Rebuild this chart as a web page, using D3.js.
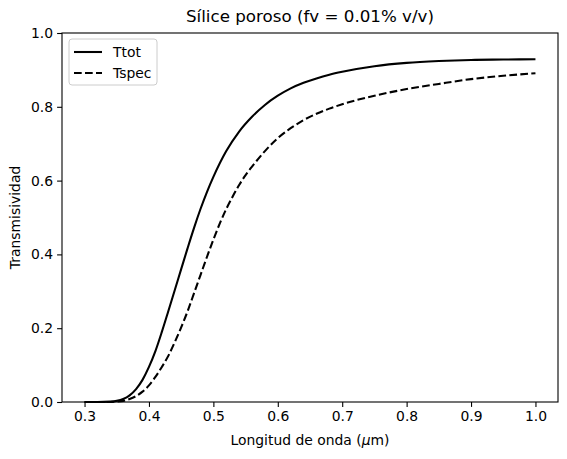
<!DOCTYPE html>
<html>
<head>
<meta charset="utf-8">
<script src="https://cdn.jsdelivr.net/npm/d3@7"></script>
<style>
  body { margin: 0; background: #fff; }
  text { font-family: "DejaVu Sans", sans-serif; fill: #000; }
</style>
</head>
<body>
<div id="chart"></div>
<script>
// wavelength in µm and transmissivity
const lambdaTot = [0.30, 0.32, 0.34, 0.35, 0.36, 0.37, 0.38, 0.39, 0.40, 0.41, 0.42, 0.43, 0.44, 0.45,
  0.46, 0.47, 0.48, 0.49, 0.50, 0.52, 0.54, 0.56, 0.58, 0.60, 0.62, 0.64, 0.66, 0.68, 0.70,
  0.75, 0.80, 0.85, 0.90, 0.95, 1.00];
const ttot = [0.000, 0.000, 0.001, 0.003, 0.008, 0.018, 0.035, 0.060, 0.095, 0.138, 0.190, 0.246, 0.303, 0.360,
  0.417, 0.472, 0.523, 0.569, 0.610, 0.680, 0.733, 0.773, 0.805, 0.830, 0.850, 0.865, 0.877, 0.887, 0.895,
  0.910, 0.919, 0.924, 0.927, 0.928, 0.929];

const lambdaSpec = [0.30, 0.32, 0.34, 0.35, 0.36, 0.37, 0.38, 0.39, 0.40, 0.41, 0.42, 0.43, 0.44, 0.45,
  0.46, 0.47, 0.48, 0.49, 0.50, 0.51, 0.52, 0.53, 0.54, 0.55, 0.56, 0.58, 0.60, 0.62, 0.64, 0.66, 0.68, 0.70,
  0.75, 0.80, 0.85, 0.90, 0.95, 1.00];
const tspec = [0.000, 0.000, 0.000, 0.001, 0.003, 0.008, 0.016, 0.028, 0.045, 0.068, 0.095, 0.125, 0.162, 0.202,
  0.246, 0.295, 0.344, 0.393, 0.440, 0.484, 0.523, 0.557, 0.588, 0.615, 0.638, 0.680, 0.715, 0.742, 0.764, 0.781, 0.795, 0.807,
  0.830, 0.848, 0.862, 0.875, 0.884, 0.891];

const xTicks = [0.3, 0.4, 0.5, 0.6, 0.7, 0.8, 0.9, 1.0];
const yTicks = [0.0, 0.2, 0.4, 0.6, 0.8, 1.0];

const W = 567, H = 459;
const margin = { top: 33, right: 9, bottom: 57, left: 62 };
const width = W - margin.left - margin.right,
  height = H - margin.top - margin.bottom;

const svgRoot = d3.select("#chart").append("svg")
  .attr("width", W).attr("height", H);

const svg = svgRoot.append("g")
  .attr("transform", "translate(" + margin.left + "," + margin.top + ")");

const x = d3.scaleLinear().domain([0.265, 1.035]).range([0, width]);
const y = d3.scaleLinear().domain([0, 1]).range([height, 0]);

// axes
const xAxis = svg.append("g")
  .attr("transform", "translate(0," + height + ")")
  .call(d3.axisBottom(x).tickValues(xTicks).tickFormat(d3.format(".1f")).tickSizeInner(4.9).tickSizeOuter(0).tickPadding(4));
const yAxis = svg.append("g")
  .call(d3.axisLeft(y).tickValues(yTicks).tickFormat(d3.format(".1f")).tickSizeInner(4.9).tickSizeOuter(0).tickPadding(4));

[xAxis, yAxis].forEach(a => {
  a.select(".domain").remove();
  a.selectAll("line").attr("stroke", "#000").attr("stroke-width", 1.1);
  a.selectAll("text").style("font-size", "13.9px").style("font-family", "DejaVu Sans");
});

// frame
svg.append("rect")
  .attr("x", 0).attr("y", 0).attr("width", width).attr("height", height)
  .attr("fill", "none").attr("stroke", "#000").attr("stroke-width", 1.1);

// lines
const line = d3.line()
  .curve(d3.curveMonotoneX)
  .x(d => x(d[0]))
  .y(d => y(d[1]));

svg.append("path")
  .datum(lambdaTot.map((l, i) => [l, ttot[i]]))
  .attr("d", line)
  .attr("fill", "none").attr("stroke", "#000").attr("stroke-width", 2.08);

svg.append("path")
  .datum(lambdaSpec.map((l, i) => [l, tspec[i]]))
  .attr("d", line)
  .attr("fill", "none").attr("stroke", "#000").attr("stroke-width", 2.08)
  .attr("stroke-dasharray", "7.7,3.3");

// titles
svg.append("text")
  .attr("x", width / 2).attr("y", -11)
  .style("text-anchor", "middle").style("font-size", "16.7px")
  .text("Sílice poroso (fv = 0.01% v/v)");

const xl = svg.append("text")
  .attr("x", width / 2).attr("y", height + 43)
  .style("text-anchor", "middle").style("font-size", "13.9px");
xl.append("tspan").text("Longitud de onda (");
xl.append("tspan").style("font-style", "italic").text("μ");
xl.append("tspan").text("m)");

svg.append("text")
  .attr("transform", "rotate(-90)")
  .attr("x", -height / 2).attr("y", -42)
  .style("text-anchor", "middle").style("font-size", "13.9px")
  .text("Transmisividad");

// legend
const lg = svg.append("g").attr("transform", "translate(7,6)");
lg.append("rect")
  .attr("x", 0).attr("y", 0).attr("width", 88).attr("height", 46).attr("rx", 3)
  .attr("fill", "#fff").attr("fill-opacity", 0.8).attr("stroke", "#ccc").attr("stroke-width", 1);
const legendItems = [["Ttot", null], ["Tspec", "7.7,3.3"]];
legendItems.forEach((it, i) => {
  const cy = 13 + i * 21;
  lg.append("line")
    .attr("x1", 5).attr("x2", 33).attr("y1", cy).attr("y2", cy)
    .attr("stroke", "#000").attr("stroke-width", 2.08)
    .attr("stroke-dasharray", it[1]);
  lg.append("text")
    .attr("x", 44).attr("y", cy).attr("dy", "0.35em")
    .style("font-size", "13.9px")
    .text(it[0]);
});
</script>
</body>
</html>
